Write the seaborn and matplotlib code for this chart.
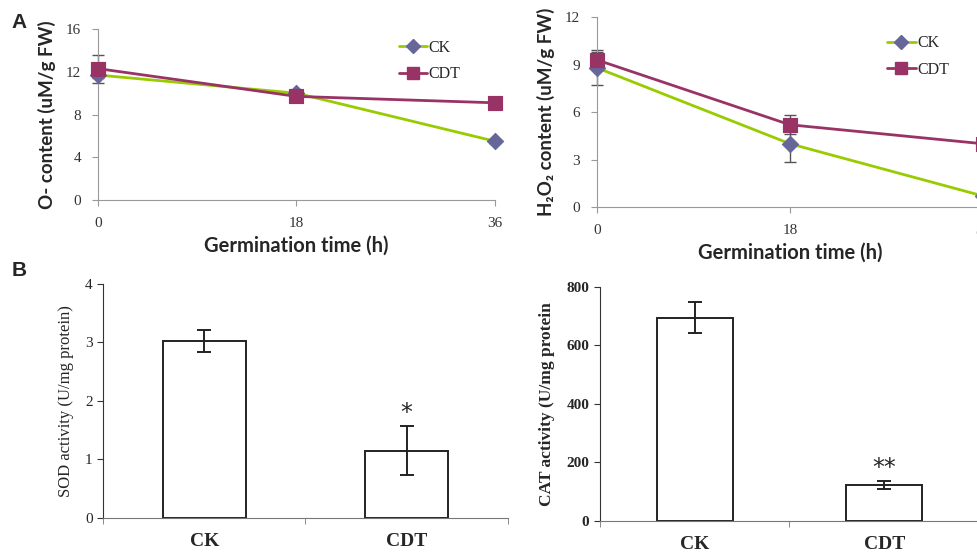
import numpy as np
import pandas as pd
import matplotlib
matplotlib.use("Agg")
import matplotlib.pyplot as plt
from matplotlib.lines import Line2D
import seaborn as sns

# Panel A data: germination time course
hours = [0, 18, 36]
o2_ck = [11.7, 10.0, 5.5]
o2_ck_err = [0.3, 0.2, 0.15]
o2_cdt = [12.3, 9.7, 9.1]
o2_cdt_err = [1.3, 0.2, 0.3]
h2o2_ck = [8.8, 4.0, 0.7]
h2o2_ck_err = [1.1, 1.15, 0.1]
h2o2_cdt = [9.3, 5.2, 4.0]
h2o2_cdt_err = [0.5, 0.6, 0.2]

# Panel B data: enzyme activities
groups = ["CK", "CDT"]
sod = [3.03, 1.15]
sod_err = [0.19, 0.42]
sod_sig = ["", "*"]
cat = [694, 123]
cat_err = [53, 13]
cat_sig = ["", "**"]

GREEN = "#99cc00"
BLUE = "#666699"
PURPLE = "#993366"

sns.set_style("ticks")
plt.rcParams["font.family"] = ["Liberation Serif", "DejaVu Sans"]

fig = plt.figure(figsize=(9.77, 5.55), dpi=100)


def line_panel(ax, ck, ck_err, cdt, cdt_err, ylabel, ymax, ystep, leg_anchor):
    df = pd.DataFrame({
        "hour": hours * 2,
        "value": ck + cdt,
        "err": ck_err + cdt_err,
        "group": ["CK"] * 3 + ["CDT"] * 3,
    })
    sns.lineplot(data=df, x="hour", y="value", hue="group",
                 palette={"CK": GREEN, "CDT": PURPLE}, linewidth=2,
                 legend=False, ax=ax)
    for g in ["CK", "CDT"]:
        sub = df[df["group"] == g]
        ax.errorbar(sub["hour"], sub["value"], yerr=sub["err"], fmt="none",
                    ecolor="#555555", elinewidth=1, capsize=4, clip_on=False, zorder=2)
    sns.scatterplot(data=df[df["group"] == "CK"], x="hour", y="value",
                    marker="D", s=70, color=BLUE, edgecolor=BLUE,
                    ax=ax, zorder=4, clip_on=False, legend=False)
    sns.scatterplot(data=df[df["group"] == "CDT"], x="hour", y="value",
                    marker="s", s=110, color=PURPLE, edgecolor=PURPLE,
                    ax=ax, zorder=5, clip_on=False, legend=False)
    ax.set_xlim(0, 36)
    ax.set_ylim(0, ymax)
    ax.set_xticks(hours)
    ax.set_yticks(np.arange(0, ymax + 0.1, ystep))
    for s in ["top", "right"]:
        ax.spines[s].set_visible(False)
    for s in ["left", "bottom"]:
        ax.spines[s].set_color("#999999")
    ax.tick_params(colors="#999999", labelcolor="#333333", labelsize=11,
                   length=4, pad=8)
    ax.set_xlabel("Germination time (h)", family=["Lato", "DejaVu Sans"],
                  fontsize=14.5, fontweight="bold", labelpad=4)
    ax.set_ylabel(ylabel, family=["Lato", "DejaVu Sans"],
                  fontsize=13.5, fontweight="bold", labelpad=7)
    handles = [
        Line2D([], [], color=GREEN, lw=2, marker="D", markersize=7,
               markerfacecolor=BLUE, markeredgecolor=BLUE),
        Line2D([], [], color=PURPLE, lw=2, marker="s", markersize=8,
               markerfacecolor=PURPLE, markeredgecolor=PURPLE),
    ]
    ax.legend(handles, ["CK", "CDT"], loc="upper right", frameon=False,
              handlelength=1.8, handletextpad=0.1, fontsize=11.5,
              bbox_to_anchor=leg_anchor, labelspacing=0.65)


def bar_panel(ax, vals, errs, sigs, ylabel, ymax, ystep, bold_label, width):
    df = pd.DataFrame({"group": groups, "value": vals, "err": errs})
    sns.barplot(data=df, x="group", y="value", color="white", edgecolor="#222222",
                linewidth=1.4, width=width, errorbar=None, ax=ax)
    ax.errorbar(range(len(groups)), vals, yerr=errs, fmt="none",
                ecolor="#222222", elinewidth=1.4, capsize=5, capthick=1.4)
    for i, (v, e, s) in enumerate(zip(vals, errs, sigs)):
        if s:
            ax.text(i, v + e + ymax * 0.005, s, ha="center", va="bottom",
                    fontsize=17, family=["DejaVu Sans"])
    ax.set_xlim(-0.5, 1.5)
    ax.set_ylim(0, ymax)
    ax.set_yticks(np.arange(0, ymax + 0.1, ystep))
    ax.set_xticks([-0.5, 0.5, 1.5], minor=True)
    ax.tick_params(axis="x", which="major", length=0, pad=11, labelsize=14)
    ax.tick_params(axis="x", which="minor", length=4, color="#777777")
    ax.tick_params(axis="y", length=4, color="#333333", labelsize=11)
    for lbl in ax.get_xticklabels():
        lbl.set_fontweight("bold")
    if bold_label:
        for lbl in ax.get_yticklabels():
            lbl.set_fontweight("bold")
    for s in ["top", "right"]:
        ax.spines[s].set_visible(False)
    ax.spines["left"].set_color("#333333")
    ax.spines["bottom"].set_color("#777777")
    ax.set_xlabel("")
    ax.set_ylabel(ylabel, fontsize=12.5 if bold_label else 12,
                  fontweight="bold" if bold_label else "normal", labelpad=8)


ax1 = fig.add_axes([0.1003, 0.6396, 0.4063, 0.308])
line_panel(ax1, o2_ck, o2_ck_err, o2_cdt, o2_cdt_err,
           "O- content (uM/g FW)", 16, 4, (0.95, 1.02))

ax2 = fig.add_axes([0.611, 0.627, 0.395, 0.342])
line_panel(ax2, h2o2_ck, h2o2_ck_err, h2o2_cdt, h2o2_cdt_err,
           "H\u2082O\u2082 content (uM/g FW)", 12, 3, (0.95, 0.98))

ax3 = fig.add_axes([0.1054, 0.0667, 0.4145, 0.4216])
bar_panel(ax3, sod, sod_err, sod_sig, "SOD activity (U/mg protein)", 4, 1, False, 0.41)

ax4 = fig.add_axes([0.614, 0.0613, 0.388, 0.4216])
bar_panel(ax4, cat, cat_err, cat_sig, "CAT activity (U/mg protein", 800, 200, True, 0.40)

fig.text(0.012, 0.96, "A", family=["Liberation Sans"], fontsize=15,
         fontweight="bold", va="center")
fig.text(0.012, 0.513, "B", family=["Liberation Sans"], fontsize=15,
         fontweight="bold", va="center")

fig.savefig("out.png", dpi=100)
